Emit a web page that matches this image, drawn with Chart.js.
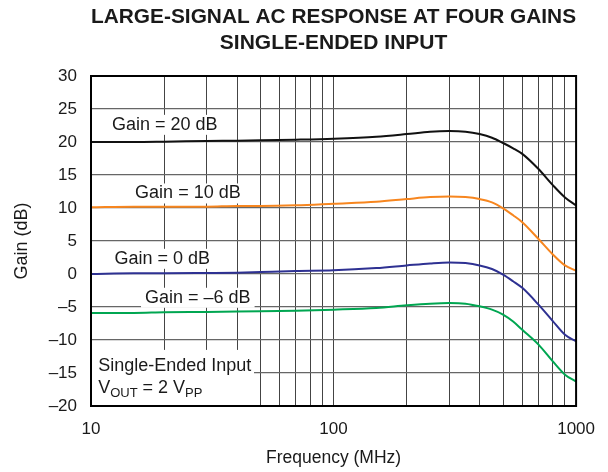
<!DOCTYPE html>
<html>
<head>
<meta charset="utf-8">
<script src="https://cdn.jsdelivr.net/npm/chart.js@4"></script>
<style>
  html, body { margin: 0; padding: 0; background: #fff; }
  #wrap { width: 608px; height: 472px; }
</style>
</head>
<body>
<div id="wrap"><canvas id="chart"></canvas></div>
<script>
// frequency points (MHz)
const freqs = [10, 15, 20, 30, 40, 50, 70, 100, 150, 200, 250, 300, 350, 400, 450, 500, 550, 600, 700, 800, 900, 1000];

// gain curves (dB)
const gain20 = [20.0, 20.0, 20.05, 20.15, 20.2, 20.25, 20.35, 20.5, 20.8, 21.2, 21.55, 21.65, 21.55, 21.2, 20.65, 19.85, 19.05, 18.2, 15.9, 13.5, 11.6, 10.4];
const gain10 = [10.1, 10.2, 10.2, 10.2, 10.3, 10.3, 10.4, 10.65, 10.95, 11.35, 11.65, 11.75, 11.65, 11.35, 10.85, 9.95, 8.9, 7.85, 5.3, 3.0, 1.3, 0.5];
const gain0 = [0.0, 0.1, 0.1, 0.15, 0.2, 0.3, 0.45, 0.55, 0.9, 1.3, 1.6, 1.75, 1.65, 1.3, 0.75, -0.1, -1.1, -2.1, -4.65, -7.1, -9.2, -10.2];
const gainM6 = [-5.9, -5.9, -5.8, -5.75, -5.7, -5.65, -5.55, -5.4, -5.15, -4.75, -4.5, -4.4, -4.5, -4.9, -5.4, -6.15, -7.2, -8.45, -10.7, -13.2, -15.25, -16.3];

// axis ticks
const xGridTicks = [10, 20, 30, 40, 50, 60, 70, 80, 90, 100, 200, 300, 400, 500, 600, 700, 800, 900, 1000];
const xLabelTicks = [10, 100, 1000];

const FONT = "'Liberation Sans', Arial, Helvetica, sans-serif";

function toPoints(ys) {
  return freqs.map((f, i) => ({ x: f, y: ys[i] }));
}

function dash(v) {
  return v < 0 ? "\u2013" + Math.abs(v) : String(v);
}

// 🔹 text boxes on the plot (white background hides the grid)
const notesPlugin = {
  id: "notes",
  beforeDatasetsDraw(chart) {
    const { ctx, chartArea, scales } = chart;
    const x = scales.x, y = scales.y;
    ctx.save();
    ctx.font = "18px " + FONT;
    ctx.textBaseline = "middle";
    ctx.textAlign = "left";

    const notes = [
      { text: "Gain = 20 dB", f: 12.2, g: 22.6 },
      { text: "Gain = 10 dB", f: 15.2, g: 12.2 },
      { text: "Gain = 0 dB", f: 12.5, g: 2.3 },
      { text: "Gain = \u20136 dB", f: 16.7, g: -3.6 }
    ];
    for (const n of notes) {
      const px = x.getPixelForValue(n.f);
      const py = y.getPixelForValue(n.g);
      const w = ctx.measureText(n.text).width;
      ctx.fillStyle = "#fff";
      ctx.fillRect(px - 4, py - 10, w + 8, 20);
      ctx.fillStyle = "#1a1a1a";
      ctx.fillText(n.text, px, py);
    }

    // lower-left condition box
    const bx1 = chartArea.left;
    const bx2 = x.getPixelForValue(47);
    const by1 = y.getPixelForValue(-11.5);
    ctx.fillStyle = "#fff";
    ctx.fillRect(bx1, by1, bx2 - bx1, chartArea.bottom - by1);

    ctx.fillStyle = "#1a1a1a";
    const tx = x.getPixelForValue(10.7);
    ctx.fillText("Single-Ended Input", tx, y.getPixelForValue(-13.9));

    let cx = tx;
    const ly = y.getPixelForValue(-17.3);
    const parts = [
      { t: "V", sub: false },
      { t: "OUT", sub: true },
      { t: " = 2 V", sub: false },
      { t: "PP", sub: true }
    ];
    for (const p of parts) {
      ctx.font = (p.sub ? "13px " : "18px ") + FONT;
      ctx.fillText(p.t, cx, p.sub ? ly + 5 : ly);
      cx += ctx.measureText(p.t).width;
    }
    ctx.restore();
  },
  afterDraw(chart) {
    const { ctx, chartArea } = chart;
    ctx.save();
    ctx.strokeStyle = "#000";
    ctx.lineWidth = 2;
    ctx.strokeRect(chartArea.left, chartArea.top, chartArea.right - chartArea.left, chartArea.bottom - chartArea.top);
    ctx.restore();
  }
};

const lineStyle = {
  borderWidth: 2,
  pointRadius: 0,
  fill: false,
  cubicInterpolationMode: "monotone"
};

new Chart(document.getElementById("chart"), {
  type: "line",
  data: {
    datasets: [
      { label: "Gain = 20 dB", data: toPoints(gain20), borderColor: "#111111", ...lineStyle },
      { label: "Gain = 10 dB", data: toPoints(gain10), borderColor: "#f7861f", ...lineStyle },
      { label: "Gain = 0 dB", data: toPoints(gain0), borderColor: "#2e3192", ...lineStyle },
      { label: "Gain = -6 dB", data: toPoints(gainM6), borderColor: "#00a651", ...lineStyle }
    ]
  },
  options: {
    responsive: true,
    maintainAspectRatio: false,
    animation: false,
    layout: { padding: { left: 0, right: 29, top: 0, bottom: 0 } },
    plugins: {
      legend: { display: false },
      tooltip: { enabled: false },
      title: {
        display: true,
        fullSize: false,
        text: ["LARGE-SIGNAL AC RESPONSE AT FOUR GAINS", "SINGLE-ENDED INPUT"],
        color: "#1a1a1a",
        font: { family: FONT, size: 21, weight: "bold", lineHeight: 1.2 },
        padding: { top: 5, bottom: 20.6 }
      }
    },
    scales: {
      x: {
        type: "logarithmic",
        min: 10,
        max: 1000,
        afterBuildTicks(scale) {
          scale.ticks = xGridTicks.map(v => ({ value: v }));
        },
        afterFit(scale) { scale.height = 66; },
        ticks: {
          autoSkip: false,
          maxRotation: 0,
          padding: 13,
          color: "#1a1a1a",
          font: { family: FONT, size: 17 },
          callback: v => (xLabelTicks.includes(v) ? String(v) : "")
        },
        grid: { color: "#444", lineWidth: 1, drawTicks: false },
        border: { display: false },
        title: {
          display: true,
          text: "Frequency (MHz)",
          color: "#1a1a1a",
          font: { family: FONT, size: 17.5 },
          padding: { top: 0, bottom: 3 }
        }
      },
      y: {
        min: -20,
        max: 30,
        afterFit(scale) { scale.width = 91; },
        ticks: {
          stepSize: 5,
          padding: 14,
          color: "#1a1a1a",
          font: { family: FONT, size: 17 },
          callback: v => dash(v)
        },
        grid: { color: "#666", lineWidth: 1.3, drawTicks: false },
        border: { display: false },
        title: {
          display: true,
          text: "Gain (dB)",
          color: "#1a1a1a",
          font: { family: FONT, size: 18 },
          padding: { top: 11, bottom: 0 }
        }
      }
    }
  },
  plugins: [notesPlugin]
});
</script>
</body>
</html>
